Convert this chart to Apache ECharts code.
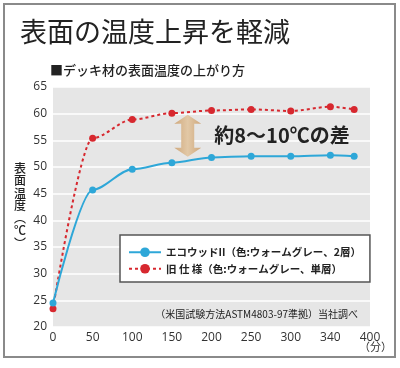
<!DOCTYPE html>
<html><head><meta charset="utf-8">
<script src="https://cdn.jsdelivr.net/npm/echarts@6/dist/echarts.min.js"></script>
<style>html,body{margin:0;padding:0;background:#fff}#c{width:400px;height:368px}</style>
</head><body><div id="c"></div>
<script>
const xValues = [0, 50, 100, 150, 200, 250, 300, 350, 380];
const ecoWood = [24.5, 45.7, 49.6, 50.8, 51.8, 52.0, 52.0, 52.2, 52.0];
const oldSpec = [23.4, 55.4, 58.9, 60.1, 60.6, 60.8, 60.5, 61.3, 60.8];
const xTickLabels = ['0', '50', '100', '150', '200', '250', '300', '340', '400'];
const seriesNames = ['エコウッドII（色:ウォームグレー、2層）', '旧 仕 様（色:ウォームグレー、単層）'];
const yTicks = { min: 20, max: 65, interval: 5 };
const arrowAnno = { x: 170, top: 59.8, bottom: 51.9 };

const JP = '"Noto Sans CJK JP", "Noto Sans", sans-serif';
const NUM = '"Open Sans", "Noto Sans CJK JP", sans-serif';
const chart = echarts.init(document.getElementById('c'), null, { renderer: 'canvas' });

const staticGraphics = [
  { id: 'frame', type: 'rect', shape: { x: 4, y: 4, width: 391, height: 353 }, style: { fill: 'none', stroke: '#8a8a8a', lineWidth: 2 }, z: 100 },
  { id: 'title', type: 'text', left: 20, top: 18, style: { text: '表面の温度上昇を軽減', font: '27px ' + JP, fill: '#222' } },
  { id: 'sub', type: 'text', left: 50, top: 64, style: { text: '■デッキ材の表面温度の上がり方', font: '500 13px ' + JP, fill: '#222' } },
  { id: 'yname', type: 'text', left: 14, top: 162, style: { text: '表\n面\n温\n度\n︵\n℃\n︶', font: '500 12px ' + JP, fill: '#222', lineHeight: 12.5, align: 'left' } },
  { id: 'note', type: 'text', right: 42, top: 309, style: { text: '（米国試験方法ASTM4803-97準拠）当社調べ', font: '10px ' + JP, fill: '#222' } },
  { id: 'xname', type: 'text', left: 359, top: 341, style: { text: '（分）', font: '11px ' + JP, fill: '#333' } }
];

const option = {
  animation: false,
  backgroundColor: '#fff',
  grid: { left: 53, right: 30, top: 87, bottom: 41, show: true, backgroundColor: '#e6e6e6', borderWidth: 0 },
  xAxis: {
    type: 'value', min: 0, max: 400, interval: 50,
    axisLine: { show: false }, axisTick: { show: false }, splitLine: { show: false },
    axisLabel: { color: '#333', fontSize: 12, fontFamily: NUM, margin: 5,
      formatter: (v) => xTickLabels[Math.round(v / 50)] }
  },
  yAxis: {
    type: 'value', min: yTicks.min, max: yTicks.max, interval: yTicks.interval,
    axisLine: { show: false }, axisTick: { show: false },
    splitLine: { lineStyle: { color: '#fff', width: 1.5 } },
    axisLabel: { color: '#333', fontSize: 12, fontFamily: NUM, margin: 6 }
  },
  legend: {
    orient: 'vertical', left: 120, top: 235,
    backgroundColor: '#fff', borderColor: '#555', borderWidth: 1.5,
    padding: [12, 9, 8, 8], itemWidth: 32, itemHeight: 12, itemGap: 6,
    textStyle: { fontSize: 10.5, fontWeight: 'bold', color: '#222', fontFamily: JP },
    data: seriesNames
  },
  series: [
    {
      name: seriesNames[1], type: 'line', smooth: 0.3, smoothMonotone: 'x',
      data: xValues.map((x, i) => [x, oldSpec[i]]),
      symbol: 'circle', symbolSize: 7,
      itemStyle: { color: '#d7282f' },
      lineStyle: { color: '#d7282f', width: 2, type: [3, 3] }, z: 3
    },
    {
      name: seriesNames[0], type: 'line', smooth: 0.3, smoothMonotone: 'x',
      data: xValues.map((x, i) => [x, ecoWood[i]]),
      symbol: 'circle', symbolSize: 7,
      itemStyle: { color: '#2ea7d8' },
      lineStyle: { color: '#2ea7d8', width: 2 }, z: 4
    }
  ],
  graphic: staticGraphics
};
chart.setOption(option);

// annotation arrow + label, placed via the chart's own scales
const pTop = chart.convertToPixel({ gridIndex: 0 }, [arrowAnno.x, arrowAnno.top]);
const pBot = chart.convertToPixel({ gridIndex: 0 }, [arrowAnno.x, arrowAnno.bottom]);
const cx = pTop[0], hw = 13.5, sw = 6.5, hh = 9;
chart.setOption({
  graphic: staticGraphics.concat([
    { id: 'arrow', type: 'polygon', z: 10, shape: { points: [
      [cx, pTop[1]], [cx + hw, pTop[1] + hh], [cx + sw, pTop[1] + hh], [cx + sw, pBot[1] - hh], [cx + hw, pBot[1] - hh],
      [cx, pBot[1]], [cx - hw, pBot[1] - hh], [cx - sw, pBot[1] - hh], [cx - sw, pTop[1] + hh], [cx - hw, pTop[1] + hh]
    ] }, style: { fill: { type: 'linear', x: 0, y: 0, x2: 1, y2: 0, colorStops: [
      { offset: 0, color: '#cfa87c' }, { offset: 0.5, color: '#e2c8a6' }, { offset: 1, color: '#cfa87c' } ] } } },
    { id: 'diff', type: 'text', z: 10, x: 282, y: (pTop[1] + pBot[1]) / 2, style: { text: '約8〜10℃の差', font: 'bold 20px ' + JP, fill: '#222', align: 'center', verticalAlign: 'middle' } }
  ])
});
</script></body></html>
